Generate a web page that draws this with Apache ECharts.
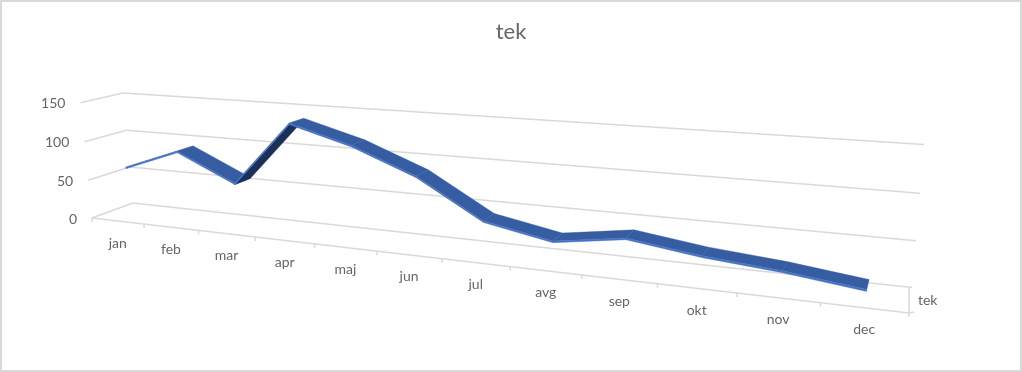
<!DOCTYPE html>
<html><head><meta charset="utf-8">
<style>html,body{margin:0;padding:0;background:#fff}#c{width:1022px;height:372px}</style>
<script src="https://cdn.jsdelivr.net/npm/echarts@6/dist/echarts.min.js"></script>
</head><body><div id="c"></div>
<script>
const titleText = 'tek';
const seriesName = 'tek';
const categories = ['jan','feb','mar','apr','maj','jun','jul','avg','sep','okt','nov','dec'];
const values = [64, 91, 57, 137, 116, 86, 41, 26, 38, 27, 20, 10];
const yTicks = [0, 50, 100, 150];
const yMax = 150;

const GRID = {left: 100, top: 60, width: 800, height: 250};
const FONT = 'Lato';
const TXT = '#666666', LINE = '#d9d9d9';
const TOP = '#365d a2'.replace(' ', ''), FACE = '#4472c4', UNDER = '#1b2f57';
const W_FRONT = 0.3, W_BACK = 0.71, HALF = 1;

// perspective projection of the chart box: s along categories, t up the value axis, w into depth
function project(s, t, w) {
  const d = 1 - 0.2506 * s - 0.0251 * t + 0.0497 * w;
  return [(92 + 589.2 * s - 13.6 * t + 47.6 * w) / d,
          (218 + 16.6 * s - 117.8 * t - 4.9 * w) / d];
}
function norm(api, i, v) {
  const p = api.coord([i, v]);
  return [(p[0] - GRID.left) / GRID.width, (GRID.top + GRID.height - p[1]) / GRID.height];
}
function lineEl(a, b) {
  return {type: 'line', shape: {x1: a[0], y1: a[1], x2: b[0], y2: b[1]},
          style: {stroke: LINE, lineWidth: 1.5, fill: null}};
}
function textEl(x, y, text, align) {
  return {type: 'text', x: x, y: y,
          style: {text: text, fill: TXT, font: '14px ' + FONT, textAlign: align, textVerticalAlign: 'middle'}};
}
function poly(points, fill) {
  return {type: 'polygon', shape: {points: points}, style: {fill: fill, stroke: fill, lineWidth: 0.4}};
}

function renderWalls(params, api) {
  const v = api.value(1);
  const n = norm(api, 0, v);
  const t = n[1];
  const a = project(0, t, 0), b = project(0, t, 1), c = project(1, t, 1);
  const lab = textEl(a[0] - 15, a[1] + 1, String(v), 'right');
  return {type: 'group', children: [lineEl(a, b), lineEl(b, c), lab]};
}
function renderCats(params, api) {
  const i = api.value(0);
  const s = norm(api, i, 0)[0];
  const step = 0.5 / categories.length;
  const c = project(s, 0, 0);
  const l = project(s - step, 0, 0);
  const kids = [lineEl(l, [l[0], l[1] + 4]),
                textEl(c[0], c[1] + 22, categories[i], 'center')];
  if (i === categories.length - 1) {
    const r = project(1, 0, 0), back = project(1, 0, 1);
    kids.push(lineEl(project(0, 0, 0), r));
    kids.push(lineEl([r[0], back[1]], [r[0], r[1] + 4]));
    kids.push(lineEl(r, [r[0] + 5, r[1] - 1]));
    kids.push(textEl(r[0] + 9, (r[1] + back[1]) / 2, seriesName, 'left'));
  }
  return {type: 'group', children: kids};
}
function renderRibbon(params, api) {
  const i = api.value(0);
  if (i >= values.length - 1) return {type: 'group', children: []};
  const a = norm(api, i, api.value(1));
  const b = norm(api, i + 1, api.value(2));
  const dt = HALF / yMax;
  const at = (n, off, w) => project(n[0], n[1] + off, w);
  const f0 = at(a, dt, W_FRONT), f1 = at(b, dt, W_FRONT), k0 = at(a, dt, W_BACK);
  const cross = (f1[0] - f0[0]) * (k0[1] - f0[1]) - (f1[1] - f0[1]) * (k0[0] - f0[0]);
  const kids = [];
  if (cross < 0) {
    kids.push(poly([f0, f1, at(b, dt, W_BACK), k0], TOP));
  } else {
    kids.push(poly([at(a, -dt, W_FRONT), at(b, -dt, W_FRONT), at(b, -dt, W_BACK), at(a, -dt, W_BACK)], UNDER));
  }
  kids.push(poly([f0, f1, at(b, -dt, W_FRONT), at(a, -dt, W_FRONT)], FACE));
  return {type: 'group', children: kids};
}

const chart = echarts.init(document.getElementById('c'), null, {renderer: 'canvas'});
chart.setOption({
  animation: false,
  backgroundColor: '#fff',
  title: {text: titleText, left: 'center', top: 16,
          textStyle: {fontFamily: FONT, fontSize: 22, fontWeight: 'normal', color: TXT}},
  grid: GRID,
  xAxis: {type: 'category', data: categories, show: false},
  yAxis: {type: 'value', min: 0, max: yMax, interval: 50, show: false},
  tooltip: {show: false},
  graphic: [{type: 'rect', shape: {x: 1, y: 1, width: 1020, height: 370},
             style: {fill: null, stroke: LINE, lineWidth: 2}, silent: true}],
  series: [
    {type: 'custom', name: 'walls', silent: true, clip: false, renderItem: renderWalls,
     data: yTicks.map(v => [0, v])},
    {type: 'custom', name: 'categories', silent: true, clip: false, renderItem: renderCats,
     data: categories.map((c, i) => [i, 0])},
    {type: 'custom', name: seriesName, silent: true, clip: false, renderItem: renderRibbon,
     data: values.map((v, i) => [i, v, i + 1 < values.length ? values[i + 1] : v])}
  ]
});
</script></body></html>
